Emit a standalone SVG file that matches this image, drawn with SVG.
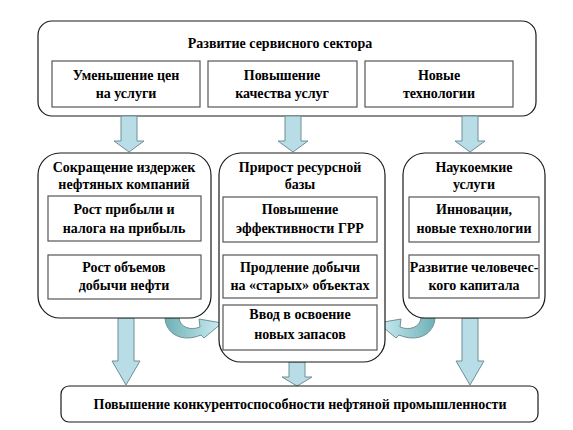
<svg xmlns="http://www.w3.org/2000/svg" width="573" height="430" viewBox="0 0 573 430" font-family="Liberation Serif, DejaVu Serif, serif" font-weight="bold" font-size="14">
<defs>
<style>
.outer{fill:#fff;stroke:#1a1a1a;stroke-width:1.2}
.inner{fill:#fff;stroke:#555;stroke-width:1.2}
.t{fill:#000;text-anchor:middle}
.arr{fill:#b9dde6;stroke:#6f8f96;stroke-width:1}
</style>
<linearGradient id="gl" x1="0" y1="0" x2="1" y2="0">
<stop offset="0" stop-color="#6fb0b5"/><stop offset="1" stop-color="#cdeff5"/>
</linearGradient>
<linearGradient id="gr" x1="1" y1="0" x2="0" y2="0">
<stop offset="0" stop-color="#6fb0b5"/><stop offset="1" stop-color="#cdeff5"/>
</linearGradient>
</defs>
<rect width="573" height="430" fill="#fff"/>

<g id="top">
<rect class="outer" x="38" y="21" width="498" height="95" rx="14"/>
<text class="t" x="280" y="48">Развитие сервисного сектора</text>
</g>
<g id="top1">
<rect class="inner" x="52" y="61" width="148" height="46"/>
<text class="t" x="126" y="80">Уменьшение цен</text>
<text class="t" x="126" y="98">на услуги</text>
</g>
<g id="top2">
<rect class="inner" x="208" y="61" width="149" height="46"/>
<text class="t" x="282" y="80">Повышение</text>
<text class="t" x="282" y="98">качества услуг</text>
</g>
<g id="top3">
<rect class="inner" x="365" y="61" width="148" height="46"/>
<text class="t" x="439" y="80">Новые</text>
<text class="t" x="439" y="98">технологии</text>
</g>

<g id="connectors">
<polygon class="arr" points="121,116 137,116 137,141 144,141 129,152 114,141 121,141"/>
<polygon class="arr" points="285,116 301,116 301,141 308,141 293,152 278,141 285,141"/>
<polygon class="arr" points="462,116 478,116 478,141 485,141 470,152 455,141 462,141"/>
<polygon class="arr" points="118,318 134,318 134,361 140,361 126,385 112,361 118,361"/>
<polygon class="arr" points="289,362 305,362 305,377 312,377 297,386 282,377 289,377"/>
<polygon class="arr" points="462,318 478,318 478,361 484,361 470,385 456,361 462,361"/>
<path fill="url(#gl)" stroke="#6f8f96" stroke-width="1" d="M165,318 C166,334 182,343 201,335 L204,338 L222,323 L199,319 L200,327 C190,331 180,327 179,318 Z"/>
<path fill="url(#gr)" stroke="#6f8f96" stroke-width="1" d="M435,318 C434,334 418,343 399,335 L396,338 L378,323 L401,319 L400,327 C410,331 420,327 421,318 Z"/>
</g>

<g id="left">
<rect class="outer" x="38" y="153" width="173" height="165" rx="22"/>
<text class="t" x="124" y="172">Сокращение издержек</text>
<text class="t" x="124" y="189">нефтяных компаний</text>
</g>
<g id="left1">
<rect class="inner" x="48" y="196" width="153" height="45"/>
<text class="t" x="124" y="214">Рост прибыли и</text>
<text class="t" x="124" y="233">налога на прибыль</text>
</g>
<g id="left2">
<rect class="inner" x="48" y="255" width="153" height="44"/>
<text class="t" x="124" y="272">Рост объемов</text>
<text class="t" x="124" y="290">добычи нефти</text>
</g>

<g id="mid">
<rect class="outer" x="219" y="153" width="166" height="209" rx="22"/>
<text class="t" x="300" y="172">Прирост ресурсной</text>
<text class="t" x="300" y="189">базы</text>
</g>
<g id="mid1">
<rect class="inner" x="223" y="197" width="154" height="45"/>
<text class="t" x="300" y="214">Повышение</text>
<text class="t" x="300" y="233">эффективности ГРР</text>
</g>
<g id="mid2">
<rect class="inner" x="223" y="255" width="154" height="43"/>
<text class="t" x="300" y="272">Продление добычи</text>
<text class="t" x="300" y="290">на «старых» объектах</text>
</g>
<g id="mid3">
<rect class="inner" x="223" y="305" width="154" height="45"/>
<text class="t" x="300" y="319">Ввод в освоение</text>
<text class="t" x="300" y="339">новых запасов</text>
</g>

<g id="right">
<rect class="outer" x="403" y="153" width="142" height="165" rx="22"/>
<text class="t" x="474" y="172">Наукоемкие</text>
<text class="t" x="474" y="189">услуги</text>
</g>
<g id="right1">
<rect class="inner" x="409" y="197" width="130" height="45"/>
<text class="t" x="474" y="214">Инновации,</text>
<text class="t" x="474" y="233">новые технологии</text>
</g>
<g id="right2">
<rect class="inner" x="409" y="255" width="130" height="43"/>
<text class="t" x="474" y="272">Развитие человечес-</text>
<text class="t" x="474" y="290">кого капитала</text>
</g>

<g id="bottom">
<rect class="outer" x="61" y="386" width="477" height="36" rx="8"/>
<text class="t" x="300" y="409">Повышение конкурентоспособности нефтяной промышленности</text>
</g>
</svg>
